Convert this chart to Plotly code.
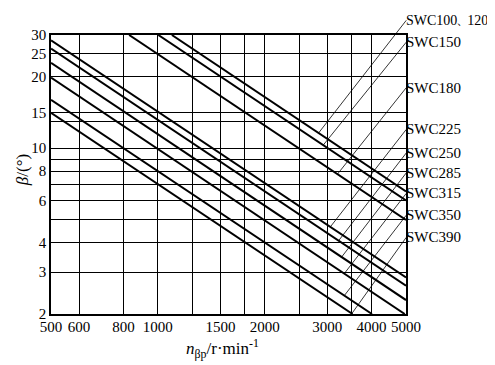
import numpy as np
import plotly.graph_objects as go

# ---- data ----
series_names = ["SWC100、120", "SWC150", "SWC180", "SWC225", "SWC250",
                "SWC285", "SWC315", "SWC350", "SWC390"]
start_n = [1095, 1003, 830, 500, 500, 500, 500, 500, 500]
start_beta = [30, 30, 30, 28.5, 26.3, 22.9, 19.85, 16.0, 14.1]
end_n = [5000, 5000, 5000, 5000, 5000, 5000, 4960, 4010, 3535]
end_beta = [6.57, 6.02, 4.98, 2.85, 2.63, 2.29, 2.0, 2.0, 2.0]

# leader lines: point on each line, and where the label sits
pointer_n = [2835, 2923, 3205, 3061, 3228, 3290, 3350, 3350, 3520]
pointer_beta = [11.58, 10.3, 7.77, 4.66, 4.07, 3.47, 2.96, 2.39, 2.01]
label_n = [5010] * 9
label_beta = [34.6, 28.0, 18.0, 12.0, 9.55, 7.87, 6.45, 5.22, 4.21]

x_tickvals = [500, 600, 800, 1000, 1500, 2000, 3000, 4000, 5000]
x_ticktext = ["500", "600", "800", "1000", "1500", "2000", "3000", "4000", "5000"]
x_extra_grid = [1250, 1750, 2500, 3500]
y_tickvals = [2, 3, 4, 6, 8, 10, 14.1, 20, 25, 30]
y_ticktext = ["2", "3", "4", "6", "8", "10", "15", "20", "25", "30"]
y_extra_grid = [5, 7, 9, 13]

FONT = "Liberation Serif, Times New Roman, Noto Serif CJK SC, Noto Sans CJK SC, serif"


def label_html(name):
    # the enumeration comma is set narrow, as in the reference
    return name.replace("、", '<span style="font-size:10px">、</span>')


fig = go.Figure()
for i, name in enumerate(series_names):
    fig.add_trace(go.Scatter(
        x=[start_n[i], end_n[i]], y=[start_beta[i], end_beta[i]],
        mode="lines", line=dict(color="black", width=2), name=name,
        showlegend=False, hoverinfo="skip"))

annotations = []
for i, name in enumerate(series_names):
    annotations.append(dict(
        x=np.log10(pointer_n[i]), y=np.log10(pointer_beta[i]),
        ax=np.log10(label_n[i]), ay=np.log10(label_beta[i]),
        xref="x", yref="y", axref="x", ayref="y",
        text=label_html(name), showarrow=True, arrowhead=0, arrowwidth=0.8,
        arrowcolor="black", standoff=0, startstandoff=0,
        xanchor="left", yanchor="middle", borderpad=0, borderwidth=0,
        font=dict(family=FONT, size=14 if "、" in name else 15,
                  color="black")))

annotations.append(dict(
    x=0.482, y=-0.125, xref="paper", yref="paper", showarrow=False,
    text="<i>n</i><sub>βp</sub>/r·min<sup>-1</sup>",
    font=dict(family=FONT, size=17, color="black"),
    xanchor="center", yanchor="middle"))
annotations.append(dict(
    x=-0.082, y=0.515, xref="paper", yref="paper", showarrow=False,
    text="<i>β</i>/(°)", textangle=-90,
    font=dict(family=FONT, size=17, color="black"),
    xanchor="center", yanchor="middle"))

axis_common = dict(
    showline=True, linecolor="black", linewidth=1.5, mirror=True,
    showgrid=True, gridcolor="black", gridwidth=1.2,
    ticks="", zeroline=False, automargin=False,
    tickfont=dict(family=FONT, size=15, color="black"))

# the page body adds an 8px offset, so the figure is 8px smaller and
# margins are shifted to put the plot area where the reference has it
fig.update_layout(
    width=487, height=357,
    margin=dict(l=43, r=89, t=27, b=51),
    paper_bgcolor="white", plot_bgcolor="white",
    xaxis=dict(type="log", range=[np.log10(500), np.log10(5000)],
               tickvals=x_tickvals, ticktext=x_ticktext,
               ticklabelstandoff=-2,
               minor=dict(tickvals=x_extra_grid, showgrid=True,
                          gridcolor="black", gridwidth=1.2, ticks=""),
               **axis_common),
    yaxis=dict(type="log", range=[np.log10(2), np.log10(30)],
               tickvals=y_tickvals, ticktext=y_ticktext,
               minor=dict(tickvals=y_extra_grid, showgrid=True,
                          gridcolor="black", gridwidth=1.2, ticks=""),
               **axis_common),
    annotations=annotations,
    showlegend=False)

fig.write_html("out.html")
